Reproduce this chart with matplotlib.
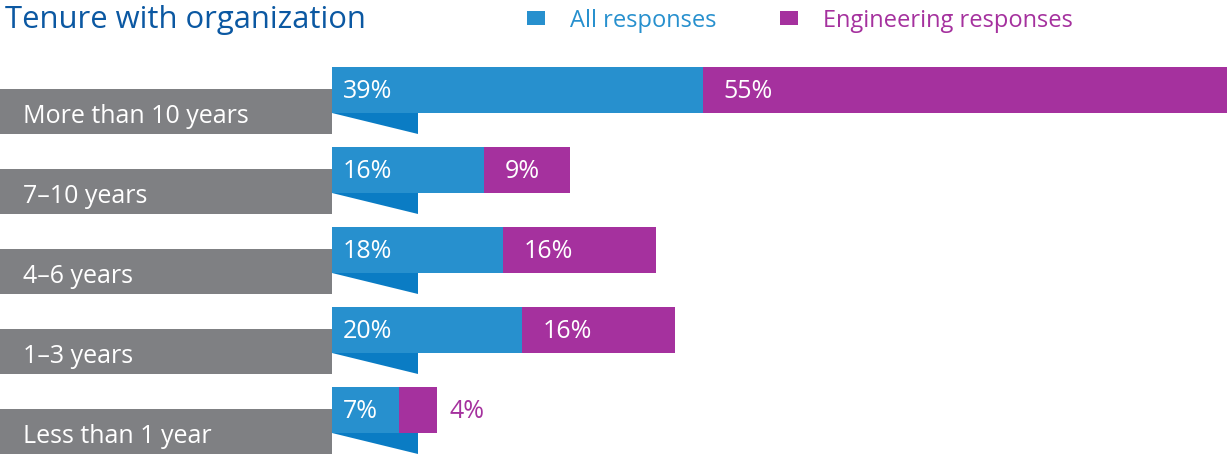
import matplotlib
matplotlib.use("Agg")
import matplotlib.pyplot as plt
from matplotlib.patches import Rectangle, Polygon

plt.rcParams['font.family'] = ['Open Sans', 'DejaVu Sans']

categories = ["More than 10 years", "7\u201310 years", "4\u20136 years", "1\u20133 years", "Less than 1 year"]
all_responses = [39, 16, 18, 20, 7]
engineering_responses = [55, 9, 16, 16, 4]

title = "Tenure with organization"
series_names = ["All responses", "Engineering responses"]

BLUE = "#2790CE"
BLUE_DARK = "#0A7CC4"
PURPLE = "#A5319E"
GRAY = "#7F8083"
TITLE_BLUE = "#0B58A2"

W, H = 1227, 456
fig = plt.figure(figsize=(W / 100, H / 100), dpi=100)
ax = fig.add_axes([0, 0, 1, 1])

px_per_pct = 9.52
origin_px = 332
row_px = 80
first_center_px = 91

ax.set_xlim(-origin_px / px_per_pct, (W - origin_px) / px_per_pct)
ax.set_ylim((H - first_center_px) / row_px, -first_center_px / row_px)
ax.axis("off")

bar_h = 46 / row_px
box_top = -1 / row_px
box_bot = 44 / row_px
fold_w = 86 / px_per_pct
xmin = ax.get_xlim()[0]

ys = list(range(len(categories)))

for y, cat in zip(ys, categories):
    # grey label tab behind the bar
    ax.add_patch(Rectangle((xmin, y + box_top), -xmin, box_bot - box_top,
                           facecolor=GRAY, edgecolor="none", zorder=1))
    # folded corner under the bar
    ax.add_patch(Polygon([(0, y + bar_h / 2), (fold_w, y + bar_h / 2), (fold_w, y + box_bot)],
                         closed=True, facecolor=BLUE_DARK, edgecolor="none", zorder=1))
    ax.text(xmin + 23 / px_per_pct, y + 32 / row_px, cat,
            color="white", fontsize=18, va="baseline", ha="left", zorder=4)

ax.barh(ys, all_responses, height=bar_h, color=BLUE, zorder=2)
ax.barh(ys, engineering_responses, left=all_responses, height=bar_h, color=PURPLE, zorder=2)

pad = 11 / px_per_pct
base = 7 / row_px
for y, a, e in zip(ys, all_responses, engineering_responses):
    ax.text(pad, y + base, f"{a}%", color="white", fontsize=18, va="baseline", ha="left", zorder=4)
    if e >= 6:
        ax.text(a + 20 / px_per_pct, y + base, f"{e}%", color="white", fontsize=18,
                va="baseline", ha="left", zorder=4)
    else:
        ax.text(a + e + 13 / px_per_pct, y + base, f"{e}%", color=PURPLE, fontsize=18,
                va="baseline", ha="left", zorder=4)

# title and legend
fig.text(5 / W, 1 - 28 / H, title, color=TITLE_BLUE, fontsize=22.3, va="baseline", ha="left")
for (sq_x, tx_x, name, col) in [(527, 570, series_names[0], BLUE), (780, 823, series_names[1], PURPLE)]:
    fig.patches.append(Rectangle((sq_x / W, 1 - 26 / H), 18 / W, 14 / H,
                                 transform=fig.transFigure, facecolor=col, edgecolor="none"))
    fig.text(tx_x / W, 1 - 27 / H, name, color=col, fontsize=17, va="baseline", ha="left")

fig.savefig("out.png", dpi=100)
